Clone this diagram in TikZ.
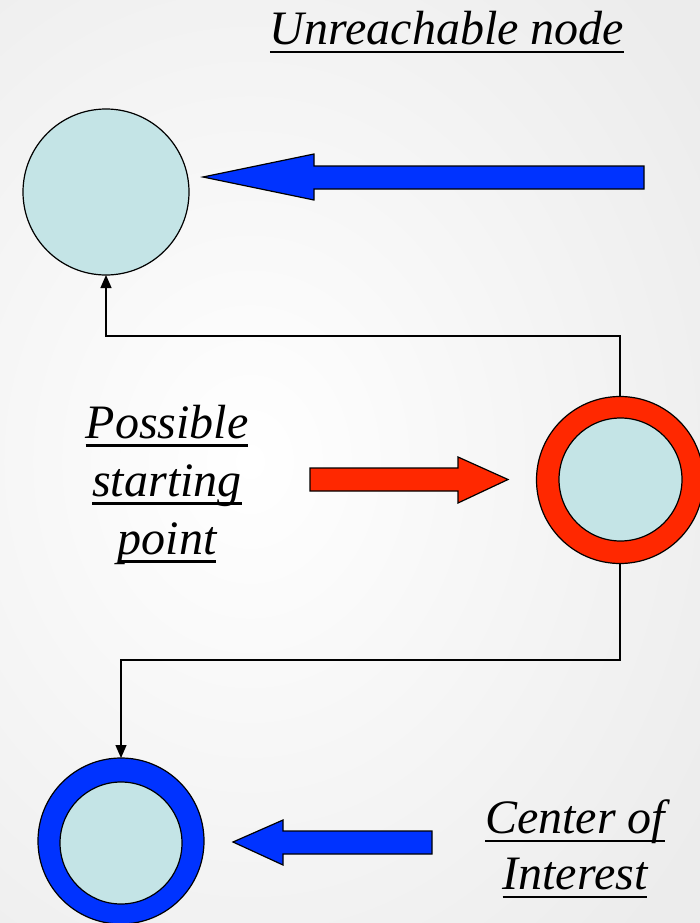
\documentclass[tikz,border=0pt]{standalone}
\usepackage{fontspec}
\setmainfont{Liberation Serif}
\usetikzlibrary{arrows.meta}
\definecolor{cyanfill}{RGB}{196,228,230}
\definecolor{ringred}{RGB}{255,40,0}
\definecolor{ringblue}{RGB}{0,51,255}
\definecolor{bgedge}{RGB}{236,236,236}
\newcommand{\myul}[1]{\setbox0=\hbox{#1}\makebox[0pt][l]{\rule[-8.3pt]{\wd0}{2.4pt}}\box0}
\begin{document}
\begin{tikzpicture}[x=1pt,y=-1pt,
  every node/.style={inner sep=0pt,outer sep=0pt},
  disc/.style={circle,draw=black,line width=1.2pt,fill=cyanfill},
  txt/.style={font=\fontsize{48}{58}\selectfont\itshape,align=center},
  blockarrow/.style={draw=black,line width=1.2pt,line join=miter},
  link/.style={draw=black,line width=1.3pt,-{Triangle[length=13pt,width=11pt]}}]
\useasboundingbox (0,0) rectangle (700,923);
\shade[inner color=white,outer color=bgedge] (-300,-200) rectangle (800,1123);
\clip (0,0) rectangle (700,923);
% nodes
\node[disc,minimum size=166pt] (top) at (106,192) {};
\node[disc,fill=ringred,minimum size=167pt] (redout) at (620,480) {};
\node[disc,minimum size=123pt] (redin) at (620.5,479.5) {};
\node[disc,fill=ringblue,minimum size=166pt] (blueout) at (121,841) {};
\node[disc,minimum size=122pt] (bluein) at (121,843) {};
% connectors
\coordinate (bend1) at (620,336);
\coordinate (bend2) at (620,660);
\draw[link] (redout.north) -- (bend1) -| (top.south);
\draw[link] (redout.south) -- (bend2) -| (blueout.north);
% block arrows
\filldraw[blockarrow,fill=ringblue] (644,166) -- (314,166) -- (314,154) -- (203,177) -- (314,200) -- (314,189) -- (644,189) -- cycle;
\filldraw[blockarrow,fill=ringred] (310,468) -- (458,468) -- (458,457) -- (508,479.5) -- (458,503) -- (458,491) -- (310,491) -- cycle;
\filldraw[blockarrow,fill=ringblue] (432,831) -- (283,831) -- (283,820) -- (233,842) -- (283,865) -- (283,854) -- (432,854) -- cycle;
% texts
\node[txt,anchor=base] (unreach) at (447,45) {\myul{Unreachable node}};
\node[txt] (start) at (167,485) {\myul{Possible}\\\myul{starting}\\\myul{point}};
\node[txt,font=\fontsize{48}{56}\selectfont\itshape] (coi) at (575,849) {\myul{Center of}\\\myul{Interest}};
\end{tikzpicture}
\end{document}
